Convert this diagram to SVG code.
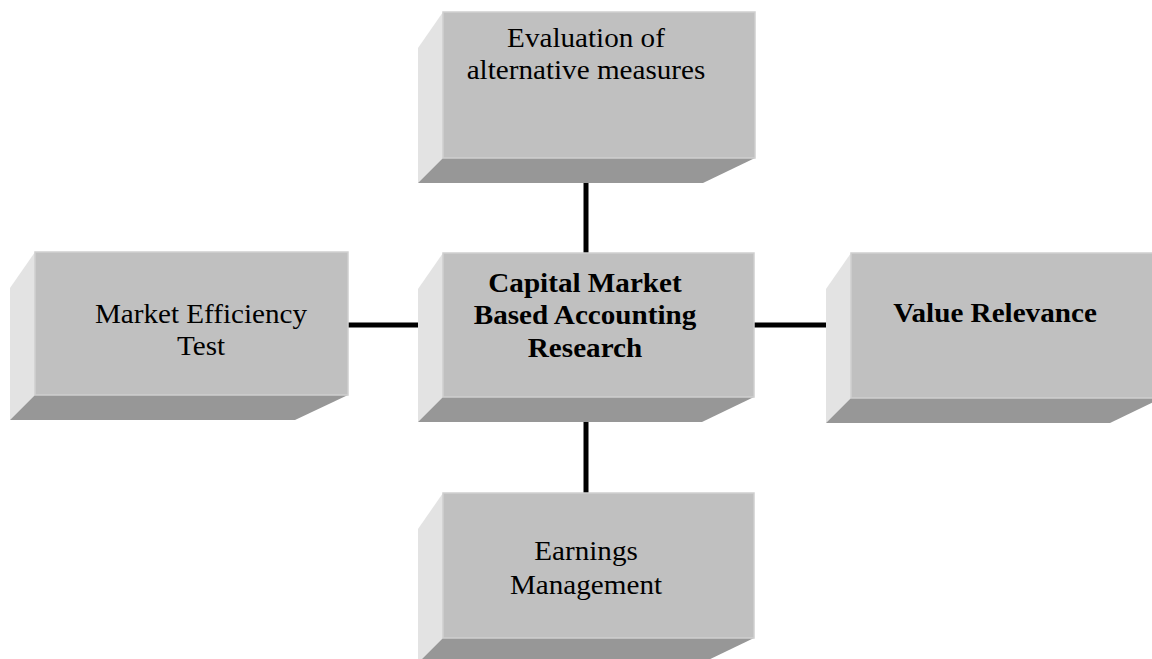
<svg xmlns="http://www.w3.org/2000/svg" width="1152" height="659" viewBox="0 0 1152 659">
  <style>
    .side { fill: #e3e3e3; }
    .base { fill: #979797; }
    .front { fill: #c0c0c0; stroke: #cfcfcf; stroke-width: 1.5; }
    .label { font-family: "Liberation Serif", "Times New Roman", serif; font-size: 26.5px; fill: #000; text-anchor: middle; }
    .bold { font-weight: bold; }
    .link { stroke: #000; stroke-width: 5; fill: none; }
  </style>
  <rect x="0" y="0" width="1152" height="659" fill="#ffffff"/>

  <!-- connectors between the central box and its four neighbours -->
  <g id="connectors">
    <line class="link" x1="586" y1="182" x2="586" y2="253"/>
    <line class="link" x1="586" y1="422" x2="586" y2="493"/>
    <line class="link" x1="348" y1="325" x2="418" y2="325"/>
    <line class="link" x1="754" y1="325" x2="826" y2="325"/>
  </g>

  <!-- top: Evaluation of alternative measures -->
  <g id="node-evaluation">
    <polygon class="side" points="418,48 443,12 443,158 418,183"/>
    <polygon class="base" points="418,183 443,158 755,158 703,183"/>
    <rect class="front" x="443" y="12" width="312" height="146"/>
    <text class="label" transform="translate(586,0) scale(1.1,1)"><tspan x="0" y="47">Evaluation of</tspan><tspan x="0" y="79">alternative measures</tspan></text>
  </g>

  <!-- left: Market Efficiency Test -->
  <g id="node-efficiency">
    <polygon class="side" points="10,288 35,252 35,395 10,420"/>
    <polygon class="base" points="10,420 35,395 348,395 295,420"/>
    <rect class="front" x="35" y="252" width="313" height="143"/>
    <text class="label" transform="translate(201,0) scale(1.1,1)"><tspan x="0" y="323">Market Efficiency</tspan><tspan x="0" y="355">Test</tspan></text>
  </g>

  <!-- centre: Capital Market Based Accounting Research -->
  <g id="node-capital-market">
    <polygon class="side" points="418,289 443,253 443,397 418,422"/>
    <polygon class="base" points="418,422 443,397 754,397 702,422"/>
    <rect class="front" x="443" y="253" width="311" height="144"/>
    <text class="label bold" transform="translate(585,0) scale(1.1,1)"><tspan x="0" y="292">Capital Market</tspan><tspan x="0" y="324">Based Accounting</tspan><tspan x="0" y="357">Research</tspan></text>
  </g>

  <!-- right: Value Relevance -->
  <g id="node-value-relevance">
    <polygon class="side" points="826,289 851,253 851,398 826,423"/>
    <polygon class="base" points="826,423 851,398 1162,398 1110,423"/>
    <rect class="front" x="851" y="253" width="311" height="145"/>
    <text class="label bold" transform="translate(995,0) scale(1.1,1)"><tspan x="0" y="322">Value Relevance</tspan></text>
  </g>

  <!-- bottom: Earnings Management -->
  <g id="node-earnings">
    <polygon class="side" points="418,529 443,493 443,638 418,663"/>
    <polygon class="base" points="418,663 443,638 754,638 702,663"/>
    <rect class="front" x="443" y="493" width="311" height="145"/>
    <text class="label" transform="translate(586,0) scale(1.1,1)"><tspan x="0" y="560">Earnings</tspan><tspan x="0" y="594">Management</tspan></text>
  </g>
</svg>
